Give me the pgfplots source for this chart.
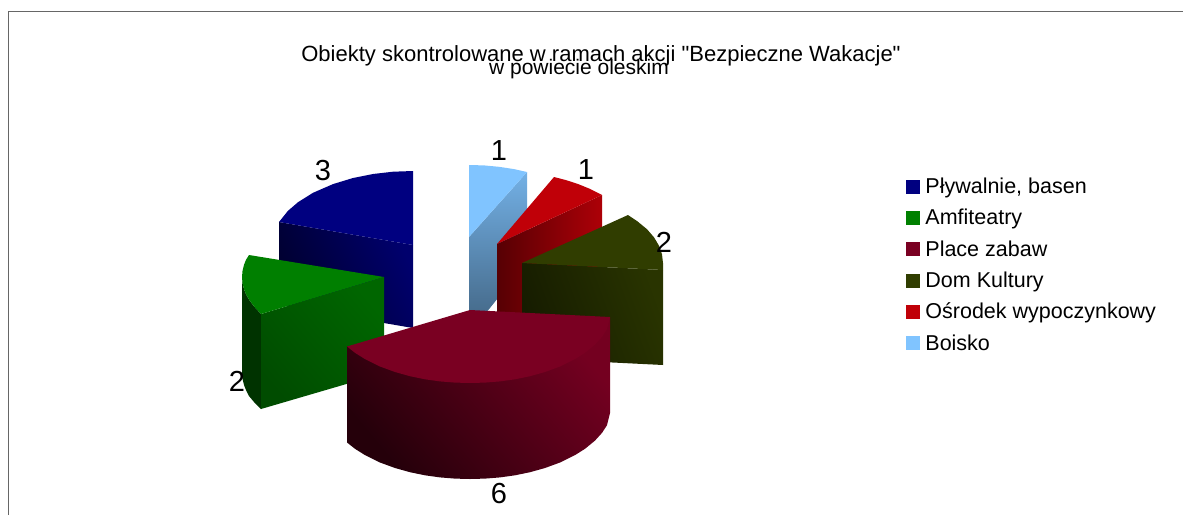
\documentclass[border=0pt]{standalone}
\usepackage{fontspec}
\setmainfont{Liberation Sans}[Ligatures=TeXOff]
\usepackage{pgfplots}
\pgfplotsset{compat=1.18}
\definecolor{cBlue}{HTML}{000080}
\definecolor{cGreen}{HTML}{007F00}
\definecolor{cMar}{HTML}{7A0022}
\definecolor{cDom}{HTML}{303D00}
\definecolor{cRed}{HTML}{C00008}
\definecolor{cSky}{HTML}{80C4FF}
\newcommand{\px}[1]{\fontsize{#1}{#1}\selectfont}
\begin{document}
\begin{tikzpicture}
\path[use as bounding box] (0,0) rectangle (1183pt,515pt);
\begin{axis}[
  at={(0,0)}, anchor=south west,
  scale only axis, width=1183pt, height=515pt,
  xmin=0, xmax=1183, ymin=0, ymax=515, y dir=reverse,
  hide axis, clip=false,
  legend cell align=left,
  legend style={at={(axis cs:906,176)}, anchor=north west, draw=none, fill=none,
    font=\px{21.5}, row sep=10.2pt, inner sep=0pt, outer sep=0pt},
  legend image code/.code={\fill[#1] (0pt,-6.5pt) rectangle (13pt,6.5pt);\path (17pt,0pt);},
]
\addlegendimage{cBlue}\addlegendentry{Pływalnie, basen}
\addlegendimage{green!50!black}\addlegendentry{Amfiteatry}
\addlegendimage{cMar}\addlegendentry{Place zabaw}
\addlegendimage{cDom}\addlegendentry{Dom Kultury}
\addlegendimage{cRed}\addlegendentry{Ośrodek wypoczynkowy}
\addlegendimage{cSky}\addlegendentry{Boisko}

% frame
\addplot[forget plot, color=black!60, line width=1pt] coordinates {(8,515) (8,11) (1183,11)};

% blue (3)
\addplot[forget plot, draw=none, top color=cBlue!85!black, bottom color=cBlue!35!black, shading angle=-65]
  coordinates {(279,222) (413,245) (413,328) (279,305)};
\addplot[forget plot, draw=none, fill=cBlue]
  coordinates {(413,171) (393,171.7) (373,174) (353,178) (333,184.1) (313,192.8) (298,202.2) (288,210.8) (279,222) (413,245)};

% sky (1)
\addplot[forget plot, draw=none, bottom color=black!50!cSky, top color=cSky!90!black, shading angle=0]
  coordinates {(469,237) (527,172) (527,262) (469,334)};
\addplot[forget plot, draw=none, fill=cSky]
  coordinates {(469,165) (484,165.4) (499,166.8) (514,169.1) (527,172) (469,237)};

% red (1)
\addplot[forget plot, draw=none, left color=cRed!45!black, right color=cRed!90!black]
  coordinates {(497,244) (602,195) (602,290) (497,335)};
\addplot[forget plot, draw=none, fill=cRed]
  coordinates {(554,177) (566,180.1) (578,184) (590,188.9) (602,195) (497,244)};

% dom kultury (2)
\addplot[forget plot, draw=none, bottom color=cDom!45!black, top color=cDom!85!black, shading angle=-70]
  coordinates {(522,263) (663,270) (663,365) (522,358)};
\addplot[forget plot, draw=none, fill=cDom]
  coordinates {(628,215) (637,221) (647,229.2) (654,237.3) (659,245.7) (662,254.3) (663,263) (663,270) (522,263)};

% green (2)
\addplot[forget plot, draw=none, fill=green!20!black]
  coordinates {(242,277) (242.5,283) (244,289.2) (246,294.2) (249,299.6) (254,306.4) (261,314) (261,409) (254,402) (249,396) (246,390) (244,385) (242.5,379) (242,373)};
\addplot[forget plot, draw=none, bottom color=green!30!black, top color=green!40!black, shading angle=-50]
  coordinates {(261,314) (384,277) (384,373) (261,409)};
\addplot[forget plot, draw=none, fill=cGreen]
  coordinates {(249,255) (384,277) (261,314) (254,306.4) (249,299.6) (246,294.2) (244,289.2) (242.5,283) (242,277) (242.5,271) (244,264.8) (246,259.8)};

% maroon (6)
\addplot[forget plot, draw=none, bottom color=cMar!30!black, top color=cMar!95!black, shading angle=-50]
  coordinates {(347,346.5) (610,317) (610,413) (607,425.2) (602,432.9) (595,440.6) (585,448.8) (575,455.1) (560,462.5) (545,468) (530,472.2) (515,475.3) (500,477.4) (485,478.6) (470,479) (455,478.6) (440,477.4) (425,475.3) (410,472.2) (395,468) (380,462.5) (365,455.1) (355,448.8) (347,442.5)};
\addplot[forget plot, draw=none, fill=cMar]
  coordinates {(470,310) (610,317) (607,329.2) (602,336.9) (595,344.6) (585,352.8) (575,359.1) (560,366.5) (545,372) (530,376.2) (515,379.3) (500,381.4) (485,382.6) (470,383) (455,382.6) (440,381.4) (425,379.3) (410,376.2) (395,372) (380,366.5) (365,359.1) (355,352.8) (347,346.5)};

% data labels
\addplot[forget plot, draw=none, mark=none, point meta=explicit symbolic,
  nodes near coords, nodes near coords style={anchor=center, font=\px{29}, text=black, inner sep=0pt}]
  table[meta=v] {
x y v
323 171 3
237 381 2
499 494 6
664 242 2
586 170 1
499 151 1
};

\node[inner sep=0pt, font=\px{22}] at (axis cs:601,55.5)
  {Obiekty skontrolowane w ramach akcji "Bezpieczne Wakacje"};
\node[inner sep=0pt, font=\px{21}] at (axis cs:579,69)
  {w powiecie oleskim};
\end{axis}
\end{tikzpicture}
\end{document}
